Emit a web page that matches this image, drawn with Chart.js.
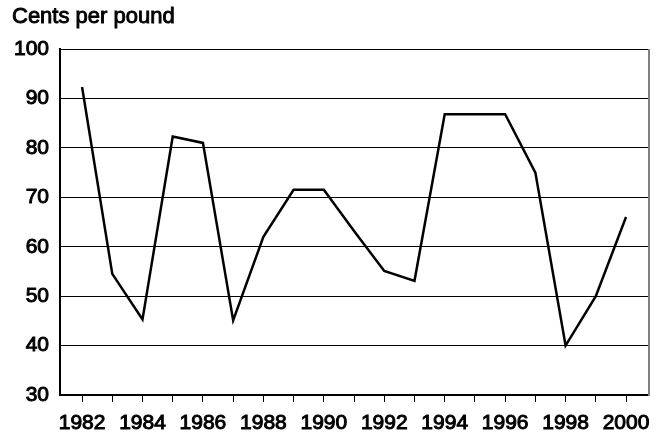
<!DOCTYPE html>
<html>
<head>
<meta charset="utf-8">
<script src="https://cdn.jsdelivr.net/npm/chart.js@4"></script>
<style>
  html, body { margin: 0; padding: 0; background: #fff; }
  #wrap { position: relative; width: 667px; height: 433px; }
  #title {
    position: absolute; left: 12px; top: 5px;
    font: 22px/22px 'Liberation Sans', Arial, sans-serif;
    color: #000;
    -webkit-text-stroke: 0.9px #000;
    white-space: nowrap;
  }
</style>
</head>
<body>
<div id="wrap">
  <div id="title">Cents per pound</div>
  <canvas id="chart1"></canvas>
</div>
<script>
const years = [1982, 1983, 1984, 1985, 1986, 1987, 1988, 1989, 1990, 1991,
               1992, 1993, 1994, 1995, 1996, 1997, 1998, 1999, 2000];
const prices = [92.3, 54.5, 45.3, 82.3, 81, 45.1, 62, 71.5, 71.5, 63.2,
                55.1, 53.1, 86.8, 86.8, 86.8, 75, 40, 50, 66];
const yTicks = [30, 40, 50, 60, 70, 80, 90, 100];

const font = { family: "'Liberation Sans', Arial, sans-serif", size: 21 };

// grey frame line on the right of the plot
const rightEdge = {
    id: "rightEdge",
    afterDraw(chart) {
        const a = chart.chartArea;
        const ctx = chart.ctx;
        ctx.save();
        ctx.strokeStyle = "#808080";
        ctx.lineWidth = 2;
        ctx.beginPath();
        ctx.moveTo(a.right, a.top);
        ctx.lineTo(a.right, a.bottom + 1);
        ctx.stroke();
        ctx.restore();
    }
};

const chart1 = document.getElementById("chart1");

const lineChart = new Chart(chart1, {
    type: "line",
    data: {
        datasets: [{
            label: "Cents per pound",
            data: years.map((y, i) => ({ x: y, y: prices[i] })),
            borderColor: "#000",
            borderWidth: 2.5,
            pointRadius: 0,
            tension: 0
        }]
    },
    options: {
        responsive: true,
        maintainAspectRatio: false,
        animation: false,
        layout: { padding: { left: 13, right: 18, top: 49, bottom: 0 } },
        plugins: {
            legend: { display: false },
            tooltip: { enabled: false }
        },
        scales: {
            x: {
                type: "linear",
                min: 1981.27,
                max: 2000.76,
                afterBuildTicks: (axis) => {
                    axis.ticks = years.map(v => ({ value: v }));
                },
                afterFit: (axis) => {
                    axis.height = 38;
                    axis.paddingLeft = 0;
                    axis.paddingRight = 0;
                },
                grid: {
                    drawOnChartArea: false,
                    drawTicks: true,
                    tickLength: 7,
                    color: "#000",
                    lineWidth: 1
                },
                border: { color: "#000", width: 2 },
                ticks: {
                    autoSkip: false,
                    maxRotation: 0,
                    color: "#000",
                    font: font,
                    padding: 9,
                    textStrokeColor: "#000",
                    textStrokeWidth: 1,
                    callback: (v) => (v % 2 === 0 ? String(v) : "")
                }
            },
            y: {
                min: 30,
                max: 100,
                afterBuildTicks: (axis) => {
                    axis.ticks = yTicks.map(v => ({ value: v }));
                },
                afterFit: (axis) => {
                    axis.width = 47;
                },
                grid: {
                    drawTicks: false,
                    color: "#000",
                    lineWidth: 1
                },
                border: { color: "#000", width: 2 },
                ticks: {
                    color: "#000",
                    font: font,
                    padding: 11,
                    textStrokeColor: "#000",
                    textStrokeWidth: 1
                }
            }
        }
    },
    plugins: [rightEdge]
});
</script>
</body>
</html>
